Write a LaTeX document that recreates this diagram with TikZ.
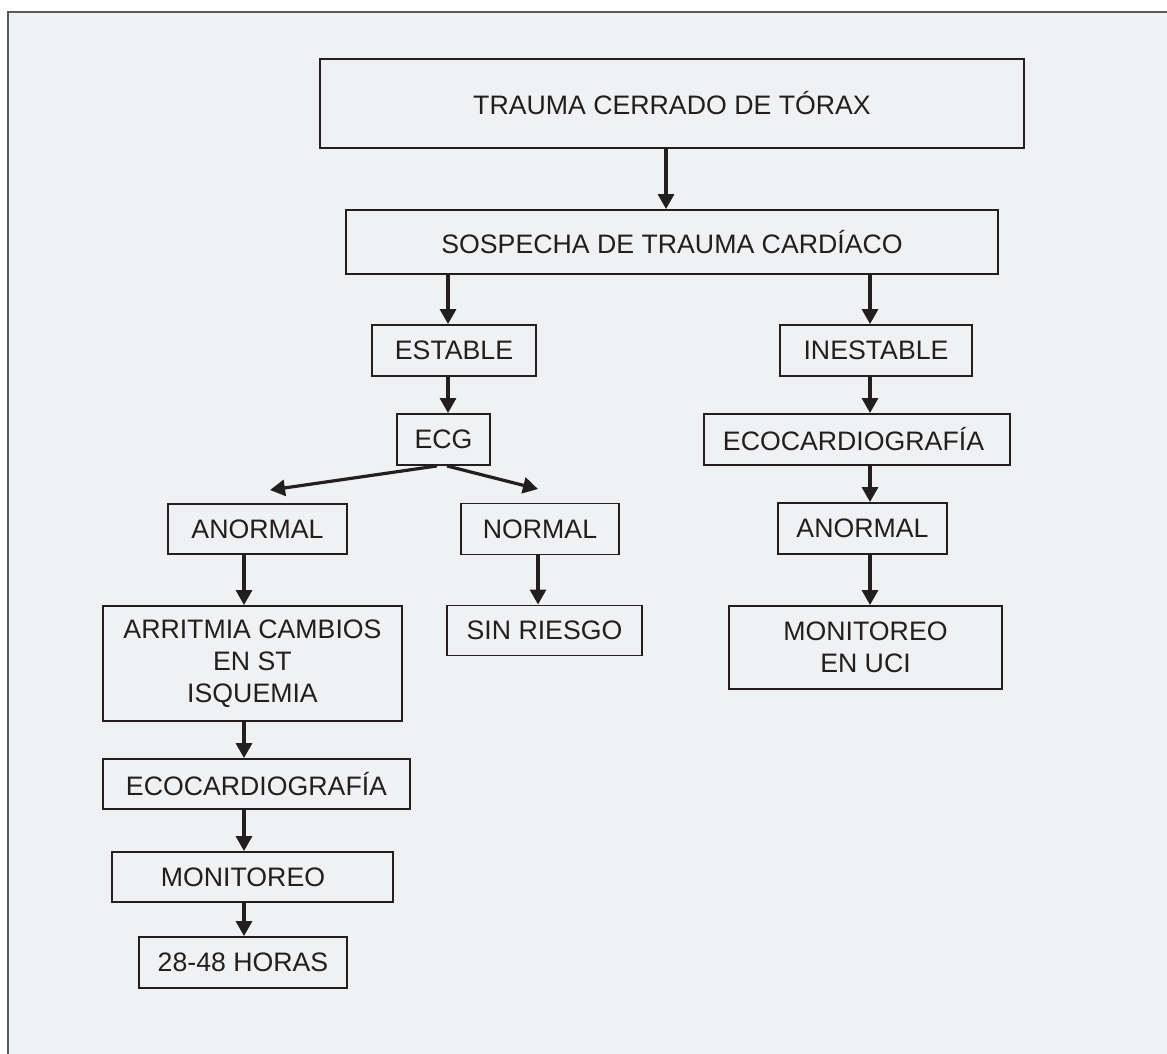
\documentclass[tikz,border=0pt]{standalone}
\usepackage{fontspec}
\setmainfont{Liberation Sans}
\usetikzlibrary{arrows.meta}
\definecolor{fondo}{RGB}{240,241,243}
\definecolor{tinta}{RGB}{35,31,32}
\definecolor{marco}{RGB}{90,90,90}

\begin{document}
\begin{tikzpicture}[
        x=1pt, y=1pt,
        caja/.style={draw=tinta, line width=1.9pt, text=tinta, inner sep=0pt,
            align=center, font=\fontsize{26.7}{32}\selectfont},
        flecha/.style={draw=tinta, line width=3.2pt,
            -{Triangle[length=15pt,width=16pt]}}
        ]
        % fondo y marco
        \useasboundingbox (0,0) rectangle (1167,-1054);
        \fill[fondo] (8,-12) rectangle (1167,-1054);
        \draw[marco, line width=1.8pt] (8,-1054) -- (8,-12) -- (1167,-12);

        \node (trauma) [caja, line width=2.6pt, minimum width=704pt, minimum height=89pt] at (672,-103.5) {TRAUMA CERRADO DE TÓRAX};
        \node (sospecha) [caja, minimum width=652pt, minimum height=64pt, below of=trauma, node distance=138.5pt] {SOSPECHA DE TRAUMA CARDÍACO};

        % rama estable
        \node (estable) [caja, minimum width=164pt, minimum height=51pt, below of=sospecha, node distance=108.5pt, xshift=-218pt] {ESTABLE};
        \node (ecg) [caja, minimum width=93pt, minimum height=51pt, below of=estable, node distance=89pt, xshift=-10.5pt] {ECG};
        \node (anormalizq) [caja, minimum width=179pt, minimum height=50pt, below of=ecg, node distance=89.5pt, xshift=-186pt] {ANORMAL};
        \node (normal) [caja, minimum width=158pt, minimum height=51pt, right of=anormalizq, node distance=282.5pt] {NORMAL};
        \node (arritmia) [caja, minimum width=299pt, minimum height=115pt, below of=anormalizq, node distance=134.5pt, xshift=-5pt] {ARRITMIA CAMBIOS\\EN ST\\ISQUEMIA};
        \node (sinriesgo) [caja, minimum width=195pt, minimum height=50pt, below of=normal, node distance=101.5pt, xshift=4.5pt] {SIN RIESGO};
        \node (ecoizq) [caja, minimum width=307pt, minimum height=50pt, below of=arritmia, node distance=120.5pt, xshift=4pt] {ECOCARDIOGRAFÍA};
        \node (monitoreo) [caja, minimum width=281pt, minimum height=50pt, below of=ecoizq, node distance=93pt, xshift=-4pt] {MONITOREO\hspace*{19pt}};
        \node (horas) [caja, minimum width=208pt, minimum height=51pt, below of=monitoreo, node distance=85.5pt, xshift=-9.5pt] {28-48 HORAS};

        % rama inestable
        \node (inestable) [caja, minimum width=192pt, minimum height=51pt, right of=estable, node distance=422pt] {INESTABLE};
        \node (ecoder) [caja, minimum width=306pt, minimum height=51pt, below of=inestable, node distance=89pt, xshift=-19pt] {ECOCARDIOGRAFÍA\hspace*{7pt}};
        \node (anormalder) [caja, minimum width=169pt, minimum height=51pt, below of=ecoder, node distance=89pt, xshift=5.5pt] {ANORMAL};
        \node (uci) [caja, minimum width=273pt, minimum height=83pt, below of=anormalder, node distance=119pt, xshift=3pt] {MONITOREO\\EN UCI};

        % columnas de las flechas
        \coordinate (coltrauma) at (666,0);
        \coordinate (colmed) at (448,0);
        \coordinate (colder) at (870,0);
        \coordinate (colizq) at (244,0);
        \coordinate (colnormal) at (538,0);

        % flechas
        \draw[flecha] (trauma.south -| coltrauma) -- (sospecha.north -| coltrauma);
        \draw[flecha] (sospecha.south -| colmed) -- (estable.north -| colmed);
        \draw[flecha] (sospecha.south -| colder) -- (inestable.north -| colder);
        \draw[flecha] (estable.south -| colmed) -- (ecg.north -| colmed);
        \draw[flecha] ([xshift=-6.5pt]ecg.south) -- ([xshift=12.5pt,yshift=13pt]anormalizq.north);
        \draw[flecha] ([xshift=3.5pt]ecg.south) -- ([xshift=-2pt,yshift=13.5pt]normal.north);
        \draw[flecha] (inestable.south -| colder) -- (ecoder.north -| colder);
        \draw[flecha] (ecoder.south -| colder) -- (anormalder.north -| colder);
        \draw[flecha] (anormalder.south -| colder) -- (uci.north -| colder);
        \draw[flecha] (normal.south -| colnormal) -- (sinriesgo.north -| colnormal);
        \draw[flecha] (anormalizq.south -| colizq) -- (arritmia.north -| colizq);
        \draw[flecha] (arritmia.south -| colizq) -- (ecoizq.north -| colizq);
        \draw[flecha] (ecoizq.south -| colizq) -- (monitoreo.north -| colizq);
        \draw[flecha] (monitoreo.south -| colizq) -- (horas.north -| colizq);
    \end{tikzpicture}
\end{document}
